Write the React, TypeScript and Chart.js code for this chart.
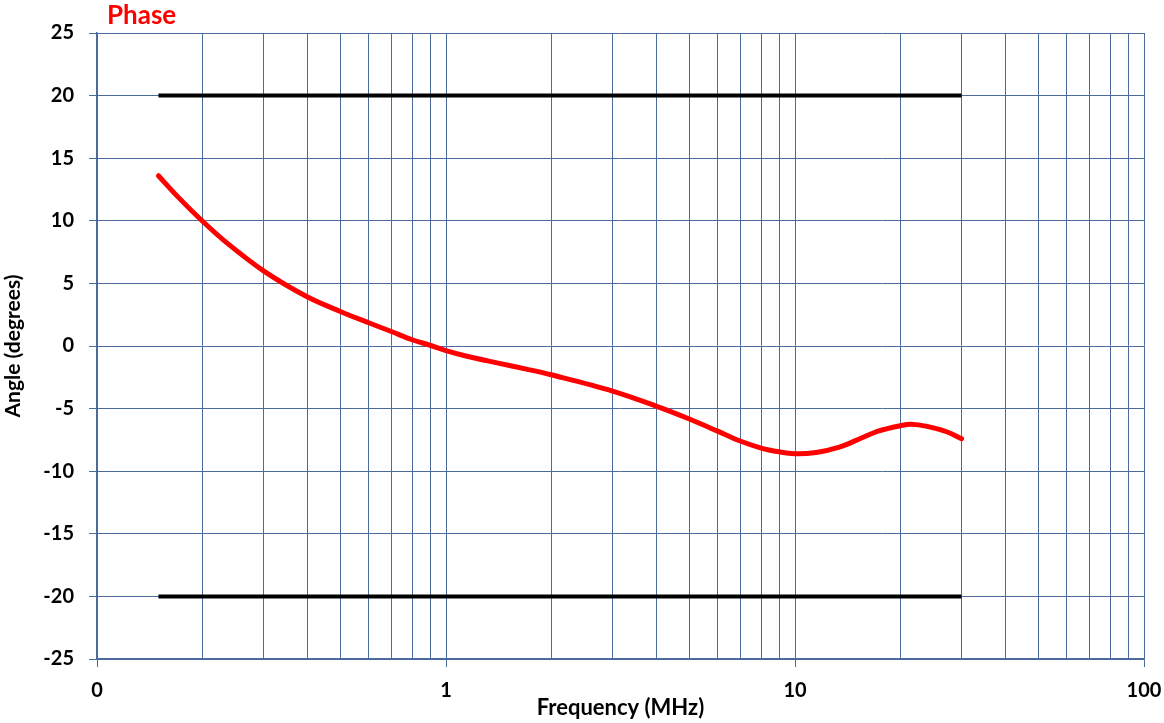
import React, { useEffect, useRef } from "react";
import { Chart, registerables } from "chart.js";
Chart.register(...registerables);

// Frequency (MHz) and phase (degrees)
const freqMHz = [0.15, 0.17, 0.2, 0.234, 0.3, 0.4, 0.5, 0.6, 0.7, 0.8, 0.9, 1.0, 1.14, 1.4, 1.7, 2.0, 3.0, 4.0, 5.0, 6.0, 6.9, 8.0, 9.0, 10, 11.5, 13.4, 15.5, 17.4, 20, 21.5, 23.9, 27.2, 30];
const phaseDeg = [13.6, 11.95, 10.0, 8.3, 6.0, 3.93, 2.74, 1.86, 1.14, 0.5, 0.06, -0.37, -0.8, -1.35, -1.85, -2.3, -3.6, -4.8, -5.85, -6.8, -7.55, -8.15, -8.45, -8.6, -8.5, -8.08, -7.35, -6.78, -6.37, -6.25, -6.42, -6.85, -7.4];

// Limit lines
const limitFreq = [0.15, 30];
const upperLimit = [20, 20];
const lowerLimit = [-20, -20];

// Axis ticks
const xGridValues = [0.1, 0.2, 0.3, 0.4, 0.5, 0.6, 0.7, 0.8, 0.9, 1, 2, 3, 4, 5, 6, 7, 8, 9, 10, 20, 30, 40, 50, 60, 70, 80, 90, 100];
const xMajorValues = [0.1, 1, 10, 100];
const xMajorLabels = ["0", "1", "10", "100"];
const yMin = -25;
const yMax = 25;
const yStep = 5;

const GRID = "#4a6b9b";
const FONT = "Lato";

export default function App() {
  const ref = useRef<HTMLCanvasElement>(null);
  useEffect(() => {
    const titlePlugin = {
      id: "phaseTitle",
      afterDraw(chart: any) {
        const ctx = chart.ctx;
        ctx.save();
        ctx.font = `bold 26px ${FONT}`;
        ctx.fillStyle = "#ff0000";
        ctx.textBaseline = "alphabetic";
        ctx.textAlign = "left";
        ctx.fillText("Phase", 107, 24);
        ctx.restore();
      },
    };
    const chart = new Chart(ref.current as HTMLCanvasElement, {
      type: "line",
      data: {
        datasets: [
          {
            label: "Phase",
            data: freqMHz.map((f, i) => ({ x: f, y: phaseDeg[i] })),
            borderColor: "#ff0000",
            borderWidth: 5,
            borderCapStyle: "round",
            borderJoinStyle: "round",
            pointRadius: 0,
            tension: 0.35,
          },
          {
            label: "Upper limit",
            data: limitFreq.map((f, i) => ({ x: f, y: upperLimit[i] })),
            borderColor: "#000000",
            borderWidth: 4,
            pointRadius: 0,
          },
          {
            label: "Lower limit",
            data: limitFreq.map((f, i) => ({ x: f, y: lowerLimit[i] })),
            borderColor: "#000000",
            borderWidth: 4,
            pointRadius: 0,
          },
        ],
      },
      options: {
        animation: false,
        responsive: false,
        layout: { padding: { top: 33, right: 20, left: 0, bottom: 0 } },
        plugins: { legend: { display: false }, tooltip: { enabled: false } },
        scales: {
          x: {
            type: "logarithmic",
            min: 0.1,
            max: 100,
            afterBuildTicks: (s: any) => {
              s.ticks = xGridValues.map((v) => ({ value: v }));
            },
            afterFit: (s: any) => {
              s.height = 64;
              s.paddingLeft = 0;
              s.paddingRight = 0;
            },
            ticks: {
              autoSkip: false,
              maxRotation: 0,
              minRotation: 0,
              padding: 12,
              color: "#000",
              font: { family: FONT, size: 20, weight: "bold" },
              callback: (v: any) => {
                const i = xMajorValues.indexOf(Number(v));
                return i >= 0 ? xMajorLabels[i] : "";
              },
            },
            grid: {
              color: GRID,
              lineWidth: 1,
              tickLength: 8,
              tickColor: (ctx: any) =>
                ctx.tick && xMajorValues.includes(ctx.tick.value) ? GRID : "rgba(0,0,0,0)",
            },
            border: { color: GRID, width: 1.5 },
            title: {
              display: true,
              text: "Frequency (MHz)",
              color: "#000",
              font: { family: FONT, size: 22, weight: "bold" },
              padding: { top: 0, bottom: 2 },
            },
          },
          y: {
            type: "linear",
            min: yMin,
            max: yMax,
            afterFit: (s: any) => {
              s.width = 97;
              s.paddingTop = 0;
              s.paddingBottom = 0;
            },
            ticks: {
              stepSize: yStep,
              padding: 15,
              color: "#000",
              font: { family: FONT, size: 20, weight: "bold" },
            },
            grid: { color: GRID, lineWidth: 1, tickLength: 8, tickColor: GRID },
            border: { color: GRID, width: 1.5 },
            title: {
              display: true,
              text: "Angle (degrees)",
              color: "#000",
              font: { family: FONT, size: 21, weight: "bold" },
              padding: { top: 1, bottom: 0 },
            },
          },
        },
      },
      plugins: [titlePlugin],
    } as any);
    return () => chart.destroy();
  }, []);
  return (
    <div style={{ position: "fixed", left: 0, top: 0, width: 1164, height: 723, background: "#fff" }}>
      <canvas ref={ref} width={1164} height={723} style={{ display: "block" }} />
    </div>
  );
}
